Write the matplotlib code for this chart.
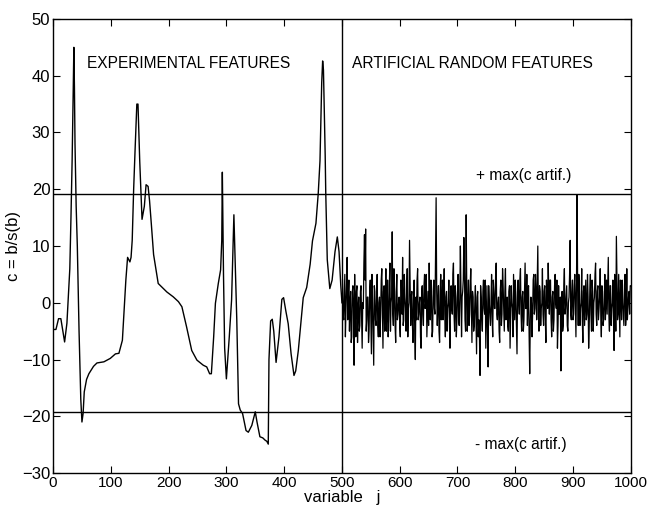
import matplotlib
matplotlib.use("Agg")
import matplotlib.pyplot as plt

# --- data ---
# experimental features, variable j = 0..500
exp_j = [0, 5, 9.5, 13.5, 20, 24, 29, 31, 33, 35, 36, 37, 38, 40, 42, 45, 48, 50,
         52, 54, 58, 62, 70, 76, 88, 99, 108, 114, 120, 126, 129, 133, 135, 137,
         139.5, 142, 145, 147, 150, 154, 158, 161, 164.5, 167, 170, 174, 182, 197,
         208, 217, 223, 231, 240, 249, 260, 266, 271, 274, 278, 281, 286, 290, 292,
         293, 295, 297, 300, 305, 309, 311, 313, 315, 318, 321, 324, 328, 334, 338,
         344, 350, 353, 358, 363, 367, 370, 372.5, 373.7, 376.6, 379.4, 382, 386,
         391, 396, 399, 403, 407, 412, 417, 420, 424.5, 433, 439, 445, 449, 455,
         459, 462, 465, 466.6, 468, 469.5, 471, 472, 474.6, 479, 483, 488, 492,
         495, 498, 500]
exp_c = [-4.7, -4.7, -2.8, -2.8, -6.9, -3.6, 6, 15, 25, 38, 45, 38, 28, 17, 10,
         -5, -17, -21, -19.5, -15.7, -13.5, -12.5, -11.2, -10.6, -10.4, -9.8, -9,
         -8.9, -6.6, 4, 8, 7.2, 8, 11, 20, 27, 35, 35, 25, 14.7, 17, 20.8, 20.5, 18,
         14, 8.5, 3.4, 1.9, 1.05, 0.2, -0.7, -4.2, -8.4, -10.1, -11, -11.3, -12.5,
         -12.5, -6, -0.1, 3.4, 5.8, 11, 23, 5, -8, -13.4, -6, 0.5, 8, 15.5, 8, -3,
         -17.8, -18.9, -19.5, -22.5, -22.8, -21.6, -19.2, -21, -23.6, -23.8, -24.2,
         -24.4, -24.9, -10, -3.2, -2.9, -5, -10.5, -6, 0.6, 0.9, -1.5, -3.7, -9,
         -12.8, -12, -8.4, 0.9, 2.7, 6.8, 10.9, 14, 19.3, 25, 38.8, 42.6, 41, 33.6,
         26, 19.3, 7.6, 2.5, 4, 9, 11.6, 9, 3, 0]

# artificial random features: odd j = 501..999
art_odd = [4, -3, 5, -1, 8, 1, -5, 2, -6, 3,
           -11, -2, 2, -7, 1, -4, 3, -8, -1, 12,
           13, -3, 1, -5, 4, -9, 0, -11, 2, -4,
           5, -6, 1, -2, 6, -8, 3, -1, -5, 4,
           -3, 7, 0, 12.5, -4, 2, -7, 5, -2, 1,
           -6, 3, 8, -3, 1, -5, 6, -1, 11, -4,
           2, -7, 4, -10, -3, 6, -2, 1, -8, 3,
           -4, 5, 0, -6, 2, 7, -3, 1, -5, 4,
           -2, 18.5, -4, 3, -7, 5, 0, -3, 6, -6,
           2, -1, 4, -8, 3, -2, 7, -5, 1, -3,
           5, -4, 10, -6, 2, 11.5, -3, 15.5, -5, 4,
           -2, 6, -7, 1, -4, 3, -9, 2, -3, -12.8,
           1, -5, 4, -2, -8, 3, -11.3, 0, -4, 5,
           -6, 2, -1, 7, -3, 1, -7, 4, -2, 3,
           -5, 6, 0, -4, 2, -8, 3, -1, 5, -3,
           1, -9, 4, -2, 6, -5, 2, -3, 7, -1,
           -4, 3, -12.5, 1, -6, 4, -2, 5, -3, 10,
           -5, 2, -1, 6, -4, 3, -7, 1, 7, -2,
           4, -6, 2, -3, 5, -1, -8, 3, -2, -12,
           2, -4, 6, -1, 3, -5, 1, 11, -3, 4,
           -2, 5, -6, 19, -4, 2, -1, 6, -7, 3,
           0, -3, 5, -8, 2, -2, 4, -5, 1, 7,
           -4, 3, -1, 6, -6, 2, -3, 5, 0, -2,
           8, -5, 3, -1, 4, -8.4, 2, 11.7, -3, 5,
           -6, 1, 4, -2, 3, -4, 6, -1, 2, 3]
# artificial random features: even j = 502..1000
art_even = [-2, 1, -6, 3, -3, 4, 0, -7, 2, -1,
            5, -6, 3, -1, -5, 2, -3, 0, 7, 4,
            -5, 1, -7, 2, -2, 5, -6, 3, -3, 1,
            -4, 0, -6, 4, -1, 2, -5, 6, -2, -6,
            3, -5, 1, -2, 6, -4, 2, -3, 0, -4,
            4, -2, -4, 5, -1, 2, -6, 0, 3, 1,
            -4, 1, -5, 1, 4, -3, 0, -6, 2, -2,
            3, -1, 5, -2, -4, 0, 4, -6, 2, -1,
            9, 2, 0, -5, 2, -3, 4, 1, -2, 1,
            -5, 0, -3, 2, -1, 5, -2, 3, -6, 2,
            -3, 1, 2, 1, 4, 6, -5, 3, 0, -4,
            3, -1, 2, -5, 0, -3, 1, -6, -6, 3,
            -3, 2, -1, 4, -2, -5, 3, -2, 0, -3,
            4, -1, 5, -2, 0, -5, 2, -4, 6, -1,
            2, -3, 1, -5, 3, -2, 0, -6, 1, 4,
            -4, 2, 0, 4, -2, 1, -5, 2, -1, 5,
            2, -6, -3, 0, -2, 5, -1, 2, 4, -2,
            3, -4, 0, -2, 2, -3, 4, -1, 2, 4,
            -3, 1, -5, 3, 0, 4, -4, -2, 1, -3,
            -5, 3, -2, 1, -4, 0, 5, -2, 2, -3,
            3, -1, 4, 2, 5, -4, 0, -3, 2, -4,
            4, -2, 1, -4, 5, -5, 2, 0, 5, -2,
            2, -3, 1, -2, 3, -4, 0, -3, 4, 3,
            -2, 3, -4, 0, -3, 5, -5, 4, -2, -1,
            4, -3, 0, -4, 5, -2, -3, 1, -2, 3]

max_artif = 19.2
x_ticks = list(range(0, 1001, 100))
y_ticks = list(range(-30, 51, 10))

art_j = list(range(501, 1001))
art_c = [v for pair in zip(art_odd, art_even) for v in pair]

plt.rcParams['font.family'] = ['Liberation Sans', 'DejaVu Sans']

fig = plt.figure(figsize=(6.47, 5.12), dpi=100)
ax = fig.add_axes([0.082, 0.076, 0.893, 0.887])

ax.plot(exp_j, exp_c, color='black', lw=1.0)
ax.plot(art_j, art_c, color='black', lw=0.9)

ax.axhline(max_artif, color='black', lw=1.0)
ax.axhline(-max_artif, color='black', lw=1.0)
ax.axvline(500, color='black', lw=1.0)

ax.text(59, 42.1, "EXPERIMENTAL FEATURES", fontsize=11.2, va='center', ha='left')
ax.text(517, 42.1, "ARTIFICIAL RANDOM FEATURES", fontsize=11.2, va='center', ha='left')
ax.text(732, 22.5, "+ max(c artif.)", fontsize=11.2, va='center', ha='left')
ax.text(730, -25, "- max(c artif.)", fontsize=11.2, va='center', ha='left')

ax.set_xlim(0, 1000)
ax.set_ylim(-30, 50)
ax.set_xticks(x_ticks)
ax.set_yticks(y_ticks)
ax.tick_params(direction='in', top=True, right=True, length=5, labelsize=11, pad=2)
ax.tick_params(axis='y', labelsize=12)
ax.set_xlabel("variable   j", fontsize=12, labelpad=0)
ax.set_ylabel("c = b/s(b)", fontsize=12, labelpad=1)
for s in ax.spines.values():
    s.set_linewidth(1.0)

fig.savefig("out.png", dpi=100)
